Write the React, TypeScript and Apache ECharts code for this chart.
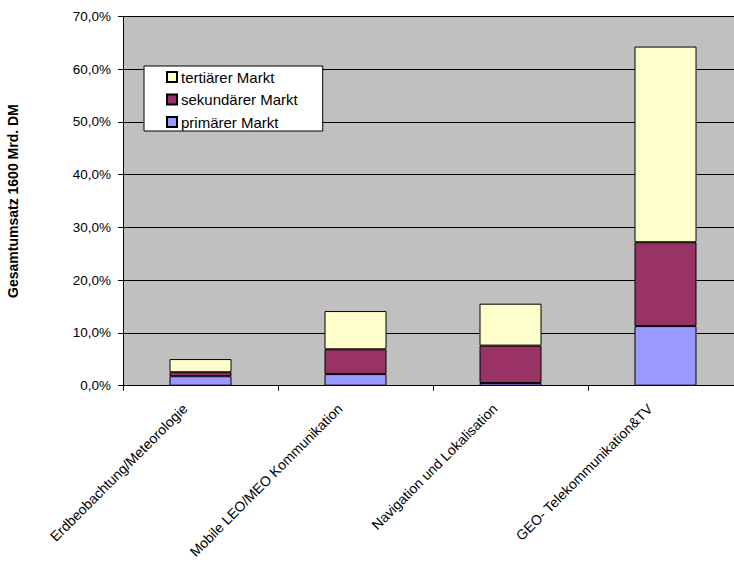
import React, { useEffect, useRef } from "react";
import * as echarts from "echarts";

const categories = [
  "Erdbeobachtung/Meteorologie",
  "Mobile LEO/MEO Kommunikation",
  "Navigation und Lokalisation",
  "GEO- Telekommunikation&TV",
];

// Shares of total revenue, in percent (stack segments)
const primaer = [1.8, 2.2, 0.5, 11.3];
const sekundaer = [0.75, 4.7, 7.1, 15.9];
const tertiaer = [2.5, 7.25, 7.95, 37.1];

const yTicks = [0, 10, 20, 30, 40, 50, 60, 70];

const FONT = "Liberation Sans, Arial, sans-serif";

export default function App() {
  const ref = useRef<HTMLDivElement>(null);

  useEffect(() => {
    if (!ref.current) return;
    const chart = echarts.init(ref.current, undefined, { renderer: "svg" });

    const barBase = {
      type: "bar" as const,
      stack: "total",
      barCategoryGap: "60%",
      itemStyle: { borderColor: "#000", borderWidth: 1 },
      emphasis: { disabled: true },
    };

    chart.setOption({
      animation: false,
      backgroundColor: "#fff",
      textStyle: { fontFamily: FONT },
      grid: {
        left: 123,
        right: -9,
        top: 16.5,
        bottom: 179.3,
        outerBoundsMode: "none",
        containLabel: false,
        backgroundColor: "#c0c0c0",
        show: true,
        borderWidth: 0,
      },
      legend: {
        orient: "vertical",
        left: 144,
        top: 66,
        data: ["tertiärer Markt", "sekundärer Markt", "primärer Markt"],
        backgroundColor: "#fff",
        borderColor: "#000",
        borderWidth: 1,
        borderRadius: 0,
        padding: [3, 25, 1, 22],
        itemWidth: 10,
        itemHeight: 10,
        itemGap: 6.5,
        icon: "rect",
        textStyle: { fontFamily: FONT, fontSize: 15, color: "#000", lineHeight: 16, padding: [0, 0, 0, -1] },
      },
      xAxis: {
        type: "category",
        data: categories,
        axisLine: { lineStyle: { color: "#000", width: 1 } },
        axisTick: { show: true, length: 5, lineStyle: { color: "#000" } },
        axisLabel: {
          rotate: 45,
          interval: 0,
          margin: 5,
          padding: [0, 22, 0, 0],
          fontFamily: FONT,
          fontSize: 14,
          color: "#000",
        },
      },
      yAxis: {
        type: "value",
        min: yTicks[0],
        max: yTicks[yTicks.length - 1],
        interval: 10,
        name: "Gesamtumsatz 1600 Mrd. DM",
        nameLocation: "middle",
        nameRotate: 90,
        nameGap: 103,
        nameTextStyle: { fontFamily: FONT, fontSize: 14, fontWeight: "bold", color: "#000" },
        axisLine: { show: true, lineStyle: { color: "#000", width: 1 } },
        axisTick: { show: true, length: 5, lineStyle: { color: "#000" } },
        splitLine: { show: true, lineStyle: { color: "#000", width: 1 } },
        axisLabel: {
          fontFamily: FONT,
          fontSize: 13.5,
          color: "#000",
          margin: 12,
          formatter: (v: number) => v.toFixed(1).replace(".", ",") + "%",
        },
      },
      series: [
        { ...barBase, name: "primärer Markt", data: primaer, itemStyle: { ...barBase.itemStyle, color: "#9999ff" } },
        { ...barBase, name: "sekundärer Markt", data: sekundaer, itemStyle: { ...barBase.itemStyle, color: "#993366" } },
        { ...barBase, name: "tertiärer Markt", data: tertiaer, itemStyle: { ...barBase.itemStyle, color: "#ffffcc" } },
      ],
    });

    return () => chart.dispose();
  }, []);

  return (
    <div
      ref={ref}
      style={{ position: "fixed", left: 0, top: 0, width: 734, height: 565, overflow: "hidden" }}
    />
  );
}
